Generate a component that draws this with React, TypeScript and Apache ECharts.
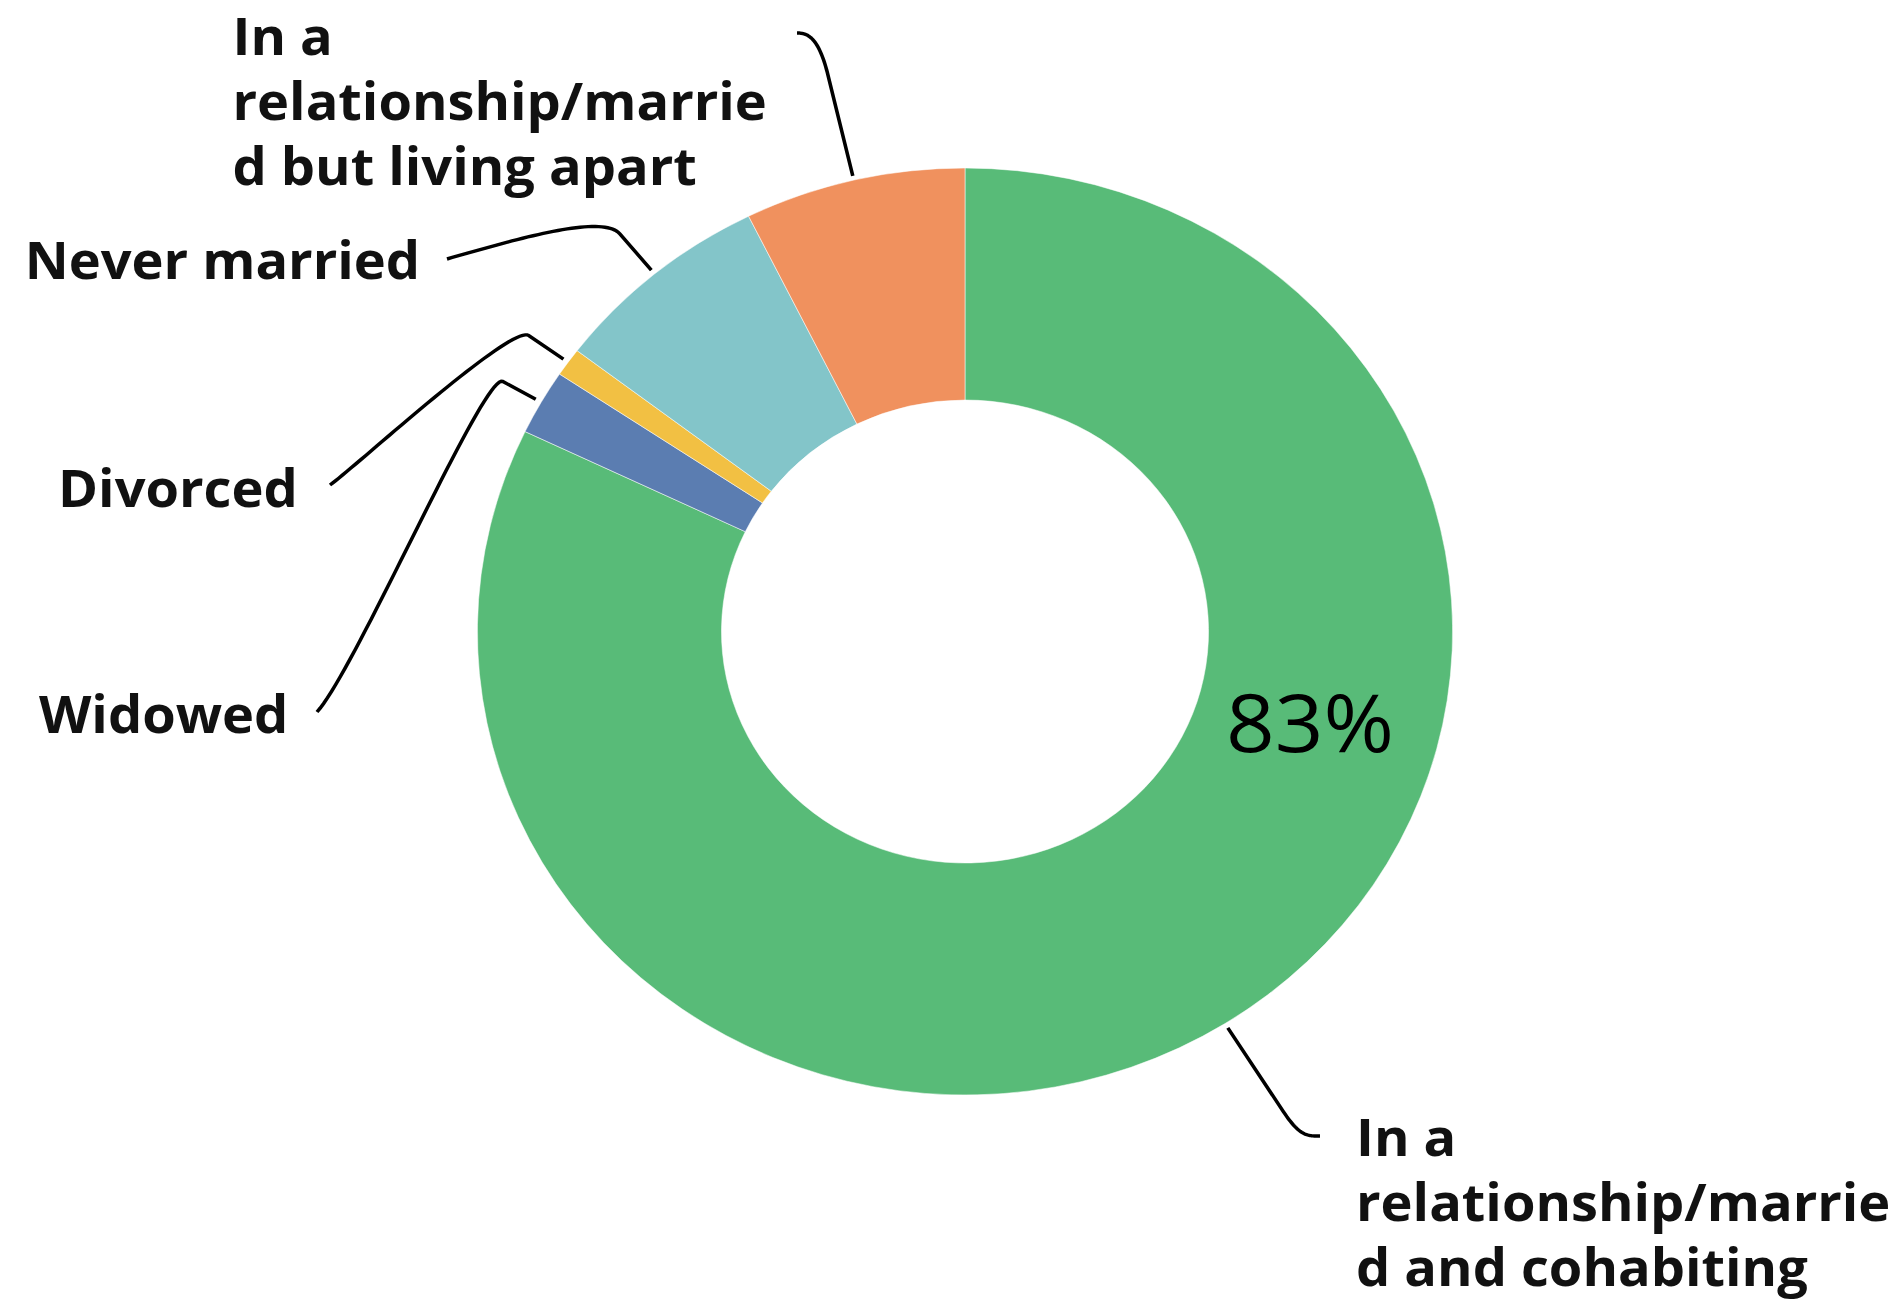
import React, { useEffect, useRef } from "react";
import * as echarts from "echarts";

// ---- data ----
const categories = [
  "In a relationship/married and cohabiting",
  "Widowed",
  "Divorced",
  "Never married",
  "In a relationship/married but living apart",
];
const values = [83, 2.3, 1.0, 7.4, 7.4];
const labelTexts = [
  "In a\nrelationship/marrie\nd and cohabiting",
  "Widowed",
  "Divorced",
  "Never married",
  "In a\nrelationship/marrie\nd but living apart",
];
const colors = ["#58BB78", "#5B7DB1", "#F2C043", "#83C5C9", "#F0915E"];

// ---- layout ----
// the whole picture is stretched horizontally (as in the reference)
const SX = 1.052;
const PAGE_W = 1902;
const PAGE_H = 1302;
const CENTER: [number, number] = [965 / SX, 631.5];
const RADIUS: [number, number] = [231.5, 463.5];
const FONT = 51.5;
const LH = 65;
// text positions / guide-line ends in screen pixels; gap, elbow, round in chart pixels
const placements = [
  { tx: 1356, ty: 1136, endX: 1320, endY: 1136, gap: 5, elbow: 134, round: 30, kx: -12, ky: 0 },
  { tx: 39, ty: 713, endX: 317, endY: 712, gap: 6, elbow: 62, round: 20, kx: 40, ky: -45 },
  { tx: 58, ty: 487, endX: 330, endY: 485, gap: 5.5, elbow: 66, round: 20, kx: 30, ky: -22 },
  { tx: 24.7, ty: 259, endX: 447, endY: 259, gap: 5, elbow: 78, round: 26, kx: 70, ky: -20 },
  { tx: 232.5, ty: 35, endX: 797, endY: 33, gap: 4.5, elbow: 148, round: 40, kx: 10, ky: 0 },
];

type P = [number, number];

function buildLine(edge: P, dir: P, p: (typeof placements)[number]): P[] {
  const at = (t: number): P => [edge[0] + dir[0] * t, edge[1] + dir[1] * t];
  const start = at(p.gap);
  const a = at(p.elbow - p.round);
  const c1 = at(p.elbow);
  const e: P = [p.endX / SX, p.endY];
  const c2: P = [e[0] + p.kx / SX, e[1] + p.ky];
  const pts: P[] = [start, a];
  const n = 40;
  for (let i = 1; i <= n; i++) {
    const t = i / n;
    const u = 1 - t;
    const x = u * u * u * a[0] + 3 * u * u * t * c1[0] + 3 * u * t * t * c2[0] + t * t * t * e[0];
    const y = u * u * u * a[1] + 3 * u * u * t * c1[1] + 3 * u * t * t * c2[1] + t * t * t * e[1];
    pts.push([x, y]);
  }
  return pts;
}

export default function App() {
  const ref = useRef<HTMLDivElement>(null);
  useEffect(() => {
    document.body.style.margin = "0";
    document.body.style.overflow = "hidden";
    const chart = echarts.init(ref.current!, null, { renderer: "svg" });
    const total = values.reduce((s, v) => s + v, 0);

    const fallbackEdge = (i: number): { edge: P; dir: P } => {
      let cum = 0;
      for (let k = 0; k < i; k++) cum += values[k];
      const mid = ((cum + values[i] / 2) / total) * Math.PI * 2;
      const dx = Math.sin(mid);
      const dy = -Math.cos(mid);
      return {
        edge: [CENTER[0] + RADIUS[1] * dx, CENTER[1] + RADIUS[1] * dy],
        dir: [dx, dy],
      };
    };

    chart.setOption({
      animation: false,
      backgroundColor: "#ffffff",
      graphic: [
        {
          type: "text",
          x: 1310 / SX,
          y: 720,
          z: 100,
          silent: true,
          style: {
            text: `${Math.round(values[0])}%`,
            fontFamily: "Open Sans",
            fontSize: 81,
            fill: "#000000",
            align: "center",
            verticalAlign: "middle",
          },
        },
      ],
      series: [
        {
          type: "pie",
          z: 2,
          center: CENTER,
          radius: RADIUS,
          startAngle: 90,
          clockwise: true,
          avoidLabelOverlap: false,
          silent: true,
          emphasis: { disabled: true },
          itemStyle: { borderColor: "#ffffff", borderWidth: 0.5 },
          label: {
            show: true,
            position: "outside",
            formatter: (p: any) => labelTexts[p.dataIndex],
            fontFamily: "Open Sans",
            fontWeight: 700,
            fontSize: FONT,
            lineHeight: LH,
            color: "#111111",
          },
          labelLine: {
            show: true,
            length: 30,
            length2: 20,
            smooth: false,
            lineStyle: { color: "#000000", width: 3.4 },
          },
          labelLayout: (params: any) => {
            const i = params.dataIndex;
            const p = placements[i];
            let edge: P;
            let dir: P;
            const lp = params.labelLinePoints;
            if (lp && lp.length >= 2) {
              edge = [lp[0][0], lp[0][1]];
              const dx = lp[1][0] - lp[0][0];
              const dy = lp[1][1] - lp[0][1];
              const l = Math.hypot(dx, dy);
              dir = l > 0 ? [dx / l, dy / l] : fallbackEdge(i).dir;
            } else {
              const f = fallbackEdge(i);
              edge = f.edge;
              dir = f.dir;
            }
            return {
              x: p.tx / SX,
              y: p.ty - LH / 2,
              align: "left",
              verticalAlign: "top",
              labelLinePoints: buildLine(edge, dir, p),
            };
          },
          data: categories.map((name, i) => ({
            name,
            value: values[i],
            itemStyle: { color: colors[i] },
          })),
        },
      ],
    });
    return () => chart.dispose();
  }, []);
  return (
    <div
      ref={ref}
      style={{
        width: PAGE_W / SX,
        height: PAGE_H,
        transform: `scaleX(${SX})`,
        transformOrigin: "0 0",
      }}
    />
  );
}
